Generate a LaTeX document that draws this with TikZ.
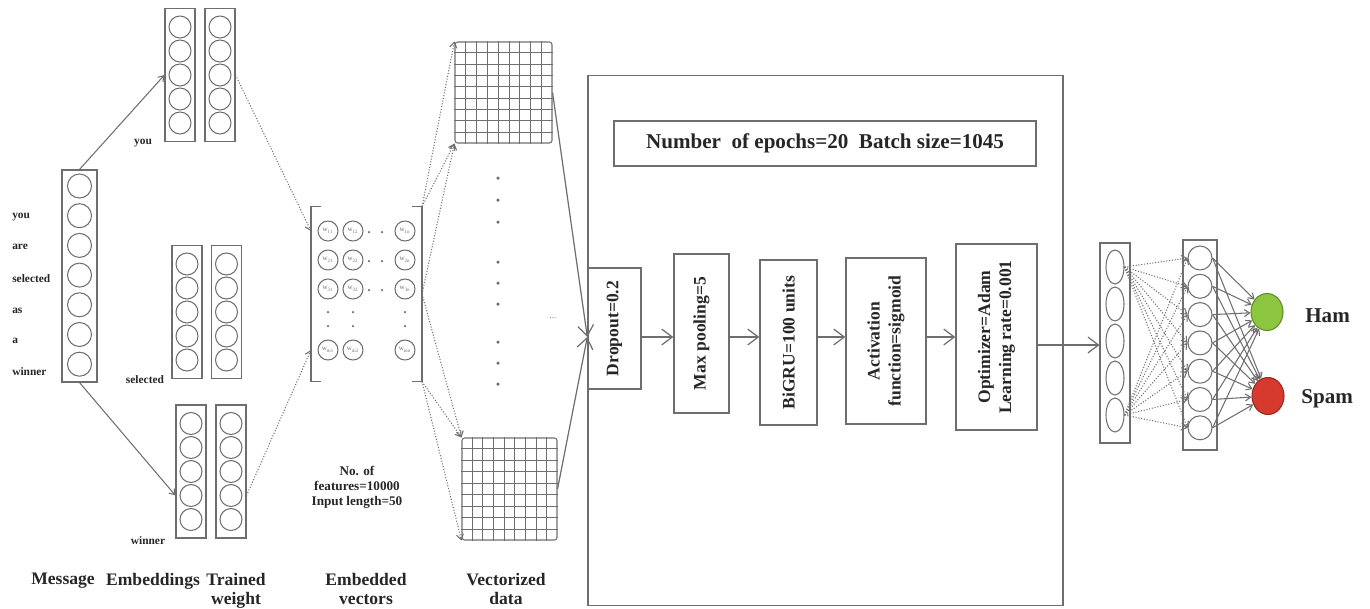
\documentclass[tikz,border=0pt]{standalone}
\usepackage{fontspec}
\setmainfont{Liberation Serif}
\usepackage{tikz}
\usetikzlibrary{arrows.meta,positioning,shapes.geometric,calc}
\definecolor{linegrey}{HTML}{6E6E6E}
\definecolor{textgrey}{HTML}{262626}
\definecolor{hamgreen}{HTML}{8CC63E}
\definecolor{spamred}{HTML}{D63A2F}

\begin{document}
\begin{tikzpicture}[
  x=0.2mm,y=-0.2mm,
  line width=0.6pt,
  vecbox/.style={draw=linegrey,minimum width=6mm,minimum height=26.6mm,inner sep=0},
  unit/.style={circle,draw=linegrey,minimum size=4.4mm,inner sep=0},
  cell/.style={circle,draw=linegrey,minimum size=4mm,inner sep=0,text=linegrey,
               font=\fontsize{4}{4}\selectfont},
  gridbox/.style={draw=linegrey,rounded corners=1.5pt,inner sep=0},
  gridline/.style={draw=linegrey,line width=0.5pt},
  arrow/.style={-{Straight Barb[length=3pt,width=4pt]},draw=linegrey},
  dotarrow/.style={arrow,densely dotted},
  bigarrow/.style={-{Straight Barb[length=6pt,width=9pt]},draw=linegrey,line width=0.7pt},
  stage/.style={draw=linegrey,line width=0.8pt,rotate=90,align=center,inner sep=2pt,
                font=\bfseries\fontsize{10}{12}\selectfont,text=textgrey},
  word/.style={font=\bfseries\fontsize{6.5}{7}\selectfont,text=textgrey,inner sep=1pt},
  lbl/.style={font=\bfseries\fontsize{10}{11}\selectfont,text=textgrey,align=center,inner sep=1pt},
]
\useasboundingbox (0,0) rectangle (1370,608);

% message column
\node[vecbox,minimum width=7mm,minimum height=42.4mm] (msg) at (79.5,276) {};
\foreach \k in {1,...,7}
  \node[unit,minimum size=4.8mm] (msg-\k) at (79.5,156.3+29.7*\k) {};
\foreach \w/\y in {you/217,are/247,selected/279,as/311,a/341,winner/372}
  \node[word,anchor=west] (w-\w) at (10,\y) {\w};

% embeddings and trained weights
\foreach \n/\x/\y in {embya/180/75,embyb/220/75,embsa/187/312,embsb/226.5/312,
                      embwa/191/471.5,embwb/231/471.5} {
  \node[vecbox] (\n) at (\x,\y) {};
  \foreach \k in {1,...,5}
    \node[unit] (\n-\k) at (\x,\y-72+24*\k) {};
}
\node[word] (l-you) at (143,143) {you};
\node[word] (l-sel) at (145,380) {selected};
\node[word] (l-win) at (148,541) {winner};

\draw[arrow] (msg.north) -- (embya.west |- embya-3);
\draw[arrow] (msg.south) -- (embwa.west |- embwa-4);

% embedded vectors
\node[minimum width=22mm,minimum height=34.8mm,inner sep=0] (mat) at (366.5,294) {};
\draw[draw=linegrey,line width=0.8pt] ([xshift=2mm]mat.north west) -- (mat.north west)
  -- (mat.south west) -- ([xshift=2mm]mat.south west);
\draw[draw=linegrey,line width=0.8pt] ([xshift=-2mm]mat.north east) -- (mat.north east)
  -- (mat.south east) -- ([xshift=-2mm]mat.south east);
\foreach \r/\y/\i in {1/231/1,2/260/2,3/289/3,4/350/m}
  \foreach \c/\x/\j in {1/328/1,2/353/2,3/405/n}
    \node[cell] (m\r\c) at (\x,\y) {w\textsubscript{\i\j}};
\foreach \r in {1,2,3}
  \foreach \x in {369,382}
    \fill[linegrey] (\x,{232+29*(\r-1)}) circle (0.25mm);
\foreach \x in {328,353,405}
  \foreach \y in {312,326}
    \fill[linegrey] (\x,\y) circle (0.25mm);
\node[font=\bfseries\fontsize{7.5}{8.5}\selectfont,text=textgrey,align=center] (feat)
  at (357,487) {No. of\\features=10000\\Input length=50};

\draw[dotarrow] (embyb.east |- embyb-3) -- (mat.west |- m11);
\draw[dotarrow] (embwb.east |- embwb-4) -- (mat.west |- m41);

% vectorized data
\node[gridbox,minimum width=19.4mm,minimum height=20.2mm] (vtop) at (503.5,92.5) {};
\node[gridbox,minimum width=19mm,minimum height=20.4mm] (vbot) at (509.5,489) {};
\foreach \g in {vtop,vbot}
  \foreach \k in {1,...,8} {
    \draw[gridline] ($(\g.north west)!\k/9!(\g.north east)$) -- ($(\g.south west)!\k/9!(\g.south east)$);
    \draw[gridline] ($(\g.north west)!\k/9!(\g.south west)$) -- ($(\g.north east)!\k/9!(\g.south east)$);
  }
\foreach \y in {178,200,222,262,283,304,342,363,384}
  \fill[linegrey] (498,\y) circle (0.35mm);
\node[font=\fontsize{5}{5}\selectfont,text=linegrey] (more) at (553,318) {...};

\draw[dotarrow] (mat.north east) -- (vtop.north west);
\draw[dotarrow] (mat.north east) -- (vtop.south west);
\draw[dotarrow] (mat.east) -- (vtop.south west);
\draw[dotarrow] (mat.east) -- (vbot.north west);
\draw[dotarrow] (mat.south east) -- (vbot.north west);
\draw[dotarrow] (mat.south east) -- (vbot.south west);

% training block
\node[draw=linegrey,line width=0.8pt,minimum width=95mm,minimum height=106mm] (train) at (825.5,340.5) {};
\node[draw=linegrey,line width=0.8pt,minimum width=84.4mm,minimum height=9mm,
      font=\bfseries\fontsize{12}{14}\selectfont,text=textgrey] (epoch) at (825,143.5)
  {Number\ \ of epochs=20\ \ Batch size=1045};
\coordinate (mid) at (0,337);
\node[stage,minimum width=24.2mm,minimum height=10.6mm] (drop) at (614.5,328.5) {Dropout=0.2};
\node[stage,minimum width=31.8mm,minimum height=11mm] (pool) at (701.5,333.5) {Max pooling=5};
\node[stage,minimum width=33mm,minimum height=11.4mm] (gru) at (788.5,342.5) {BiGRU=100 units};
\node[stage,minimum width=33.2mm,minimum height=16mm] (act) at (886,341) {Activation\\function=sigmoid};
\node[stage,minimum width=37.2mm,minimum height=16.2mm] (opt) at (996.5,337) {Optimizer=Adam\\Learning rate=0.001};

\draw[bigarrow] (drop.south |- mid) -- (pool.north |- mid);
\draw[bigarrow] (pool.south |- mid) -- (gru.north |- mid);
\draw[bigarrow] (gru.south |- mid) -- (act.north |- mid);
\draw[bigarrow] (act.south |- mid) -- (opt.north |- mid);

\draw[bigarrow] (vtop.east) -- (drop.north |- mid);
\draw[bigarrow] (vbot.east) -- (drop.north |- mid);

% dense layers and output
\node[vecbox,minimum width=6mm,minimum height=40mm] (hid1) at (1115,343) {};
\foreach \k in {1,...,5}
  \node[ellipse,draw=linegrey,minimum width=3.6mm,minimum height=6.8mm,inner sep=0] (a\k) at (1115,230+37*\k) {};
\node[vecbox,minimum width=6.8mm,minimum height=42mm] (hid2) at (1200,345) {};
\foreach \k in {1,...,7}
  \node[unit,minimum size=4.8mm] (b\k) at (1200,229.7+28.3*\k) {};
\node[ellipse,draw=hamgreen!70!black,fill=hamgreen,minimum width=6.4mm,minimum height=7.4mm,inner sep=0] (ham) at (1267,312) {};
\node[ellipse,draw=spamred!70!black,fill=spamred,minimum width=6.4mm,minimum height=7.4mm,inner sep=0] (spam) at (1268,396) {};
\node[lbl,font=\bfseries\fontsize{12}{14}\selectfont,anchor=west] (hamlbl) at (1303,316) {Ham};
\node[lbl,font=\bfseries\fontsize{12}{14}\selectfont,anchor=west] (spamlbl) at (1299,399) {Spam};

\coordinate (mid2) at (0,345);
\draw[bigarrow] (opt.south |- mid2) -- (hid1.west |- mid2);
\foreach \j in {1,...,7} {
  \draw[dotarrow] (a1.east) -- (b\j.west);
  \draw[dotarrow] (a5.east) -- (b\j.west);
  \draw[arrow] (b\j.east) -- (ham);
  \draw[arrow] (b\j.east) -- (spam);
}

% captions
\node[lbl,anchor=north] (c-msg) at (63,571) {Message};
\node[lbl,anchor=north] (c-emb) at (153,571) {Embeddings};
\node[lbl,anchor=north] (c-tw) at (236,571) {Trained\\weight};
\node[lbl,anchor=north] (c-ev) at (366,571) {Embedded\\vectors};
\node[lbl,anchor=north] (c-vd) at (506,571) {Vectorized\\data};
\end{tikzpicture}
\end{document}
